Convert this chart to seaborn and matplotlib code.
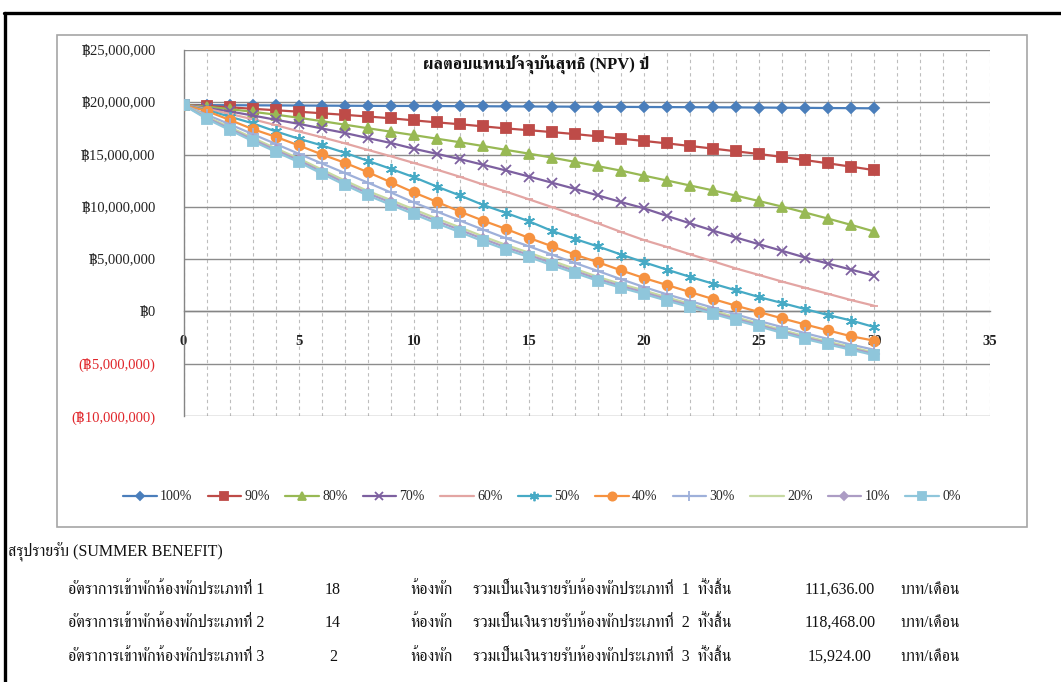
import numpy as np
import pandas as pd
import matplotlib
matplotlib.use("Agg")
import matplotlib.pyplot as plt
import seaborn as sns
from matplotlib import font_manager
from matplotlib.lines import Line2D
from matplotlib.patches import Rectangle
from matplotlib.ticker import FixedLocator, MultipleLocator, FuncFormatter

# ---------------------------------------------------------------- data
years = list(range(31))

occupancy_labels = ["100%", "90%", "80%", "70%", "60%", "50%",
                    "40%", "30%", "20%", "10%", "0%"]

# NPV by year (million baht)
npv_100 = [19.74, 19.73, 19.72, 19.71, 19.70, 19.69, 19.68, 19.67, 19.66, 19.65,
           19.65, 19.64, 19.63, 19.62, 19.61, 19.60, 19.59, 19.58, 19.57, 19.56,
           19.55, 19.54, 19.53, 19.52, 19.51, 19.50, 19.48, 19.47, 19.45, 19.44, 19.42]
npv_90 = [19.74, 19.65, 19.52, 19.38, 19.24, 19.10, 18.95, 18.80, 18.64, 18.47,
          18.27, 18.08, 17.90, 17.70, 17.50, 17.33, 17.15, 16.96, 16.74, 16.52,
          16.30, 16.07, 15.82, 15.57, 15.31, 15.05, 14.77, 14.47, 14.16, 13.84, 13.51]
npv_80 = [19.74, 19.58, 19.35, 19.09, 18.82, 18.52, 18.20, 17.86, 17.52, 17.19,
          16.86, 16.52, 16.18, 15.82, 15.45, 15.09, 14.71, 14.30, 13.89, 13.46,
          12.98, 12.52, 12.04, 11.57, 11.07, 10.55, 10.02, 9.45, 8.87, 8.27, 7.64]
npv_70 = [19.74, 19.45, 19.13, 18.74, 18.33, 17.94, 17.50, 17.07, 16.58, 16.11,
          15.56, 15.07, 14.57, 14.03, 13.48, 12.90, 12.31, 11.72, 11.09, 10.46,
          9.86, 9.13, 8.42, 7.72, 7.06, 6.42, 5.79, 5.15, 4.57, 3.99, 3.42]
npv_60 = [19.74, 19.38, 18.90, 18.38, 17.82, 17.22, 16.66, 16.08, 15.45, 14.84,
          14.20, 13.56, 12.88, 12.14, 11.46, 10.72, 9.98, 9.20, 8.42, 7.60,
          6.82, 6.16, 5.46, 4.79, 4.10, 3.48, 2.85, 2.26, 1.68, 1.08, 0.54]
npv_50 = [19.74, 19.27, 18.63, 17.99, 17.22, 16.52, 15.88, 15.18, 14.40, 13.64,
          12.84, 11.94, 11.09, 10.19, 9.42, 8.62, 7.70, 6.93, 6.21, 5.44,
          4.70, 3.99, 3.30, 2.65, 2.01, 1.37, 0.80, 0.22, -0.35, -0.87, -1.50]
npv_40 = [19.74, 19.17, 18.32, 17.44, 16.70, 15.88, 15.02, 14.22, 13.32, 12.36,
          11.38, 10.48, 9.55, 8.69, 7.89, 7.03, 6.23, 5.43, 4.70, 3.93,
          3.19, 2.52, 1.85, 1.18, 0.54, -0.06, -0.67, -1.25, -1.82, -2.38, -2.80]
npv_30 = [19.74, 18.82, 17.90, 16.96, 16.02, 15.08, 14.16, 13.24, 12.32, 11.38,
          10.42, 9.55, 8.69, 7.83, 7.00, 6.23, 5.43, 4.63, 3.86, 3.08,
          2.33, 1.63, 0.99, 0.35, -0.29, -0.92, -1.50, -2.08, -2.64, -3.18, -3.67]
npv_20 = [19.74, 18.64, 17.62, 16.60, 15.60, 14.63, 13.57, 12.52, 11.52, 10.65,
          9.76, 8.88, 8.04, 7.18, 6.36, 5.62, 4.84, 4.07, 3.30, 2.62,
          2.00, 1.34, 0.72, 0.06, -0.57, -1.17, -1.79, -2.37, -2.90, -3.42, -3.94]
npv_10 = [19.74, 18.52, 17.48, 16.44, 15.43, 14.45, 13.37, 12.30, 11.30, 10.42,
          9.52, 8.64, 7.80, 6.94, 6.13, 5.40, 4.62, 3.86, 3.10, 2.43,
          1.82, 1.17, 0.56, -0.10, -0.72, -1.31, -1.93, -2.52, -3.04, -3.55, -4.07]
npv_0 = [19.74, 18.42, 17.35, 16.29, 15.27, 14.28, 13.18, 12.10, 11.09, 10.20,
         9.30, 8.42, 7.58, 6.72, 5.92, 5.20, 4.42, 3.67, 2.92, 2.26,
         1.66, 1.02, 0.42, -0.24, -0.85, -1.44, -2.06, -2.64, -3.16, -3.67, -4.19]

npv_series = [npv_100, npv_90, npv_80, npv_70, npv_60, npv_50,
              npv_40, npv_30, npv_20, npv_10, npv_0]

y_ticks_baht = [-10_000_000, -5_000_000, 0, 5_000_000, 10_000_000,
                15_000_000, 20_000_000, 25_000_000]
x_ticks = [0, 5, 10, 15, 20, 25, 30, 35]

chart_title = "ผลตอบแทนปัจจุบันสุทธิ (NPV) ปี"

summary_heading = "สรุปรายรับ (SUMMER BENEFIT)"
room_types = [1, 2, 3]
rooms_occupied = [18, 14, 2]
monthly_income = [111636.00, 118468.00, 15924.00]

# ---------------------------------------------------------------- styles
series_colors = ["#4A7EBB", "#BE4B48", "#98B954", "#7D60A0", "#E3A5A3", "#46AAC5",
                 "#F69240", "#9EB0DA", "#C6D9A1", "#AC9CC4", "#8FC6DB"]
series_markers = ["D", "s", "^", "x", "_", (6, 2, 0), "o", "+", "_", "D", "s"]
marker_sizes = [5, 7, 7, 7, 6, 8, 7, 8, 6, 5, 7]

sns.set_theme(style="white")


def family_with(char, prefer=()):
    """Return an installed font family that has a glyph for ``char``."""
    try:
        from fontTools.ttLib import TTFont
    except Exception:
        return None
    hits = []
    for entry in font_manager.fontManager.ttflist:
        try:
            tt = TTFont(entry.fname, fontNumber=0, lazy=True)
            cmap = tt.getBestCmap() or {}
        except Exception:
            continue
        if ord(char) in cmap and entry.name not in hits:
            hits.append(entry.name)
    for p in prefer:
        for h in hits:
            if p.lower() in h.lower():
                return h
    return hits[0] if hits else None


thai_family = family_with("ผ", prefer=("Serif", "Thai"))
serif_stack = ["Liberation Serif"]
if thai_family:
    serif_stack.append(thai_family)
serif_stack += ["DejaVu Serif", "DejaVu Sans"]

plt.rcParams["font.family"] = serif_stack
plt.rcParams["axes.unicode_minus"] = False

W, H = 1061, 682


def fx(px):
    return px / W


def fy(py):
    return 1 - py / H


fig = plt.figure(figsize=(W / 100, H / 100), dpi=100, facecolor="white")

# page frame and chart box
fig.add_artist(Line2D([fx(4), fx(1061)], [fy(13), fy(13)], color="black", lw=2.4))
fig.add_artist(Line2D([fx(5), fx(5)], [fy(13), fy(682)], color="black", lw=2.4))
fig.add_artist(Rectangle((fx(57), fy(527)), fx(1027) - fx(57), fy(35) - fy(527),
                         fill=False, edgecolor="#A6A6A6", lw=1.2))

ax = fig.add_axes([fx(183.5), fy(416), (989.5 - 183.5) / W, (416 - 50) / H])
ax.set_facecolor("white")

records = []
for label, values in zip(occupancy_labels, npv_series):
    for yr, v in zip(years, values):
        records.append({"year": yr, "npv": v * 1_000_000, "occupancy": label})
df = pd.DataFrame(records)

handles = []
for label, color, marker, ms in zip(occupancy_labels, series_colors,
                                    series_markers, marker_sizes):
    sub = df[df["occupancy"] == label]
    sns.lineplot(data=sub, x="year", y="npv", ax=ax, color=color, lw=1.6,
                 marker=marker, markersize=ms, markeredgecolor=color,
                 markerfacecolor=color, markeredgewidth=1.3,
                 errorbar=None, legend=False, zorder=3)
    handles.append(Line2D([], [], color=color, lw=1.6, marker=marker,
                          markersize=ms, markeredgecolor=color,
                          markerfacecolor=color, markeredgewidth=1.3))

ax.set_xlim(0, 35)
ax.set_ylim(-10_000_000, 25_000_000)
ax.set_xlabel("")
ax.set_ylabel("")

# axes lines through the origin
for side in ("top", "right"):
    ax.spines[side].set_visible(False)
ax.spines["bottom"].set_position(("data", 0))
ax.spines["left"].set_position(("data", 0))
for side in ("bottom", "left"):
    ax.spines[side].set_color("#858585")
    ax.spines[side].set_linewidth(1.0)

ax.xaxis.set_major_locator(FixedLocator(x_ticks))
ax.xaxis.set_minor_locator(MultipleLocator(1))
ax.yaxis.set_major_locator(FixedLocator(y_ticks_baht))


def baht(v, _pos=None):
    if v < 0:
        return f"(฿{-v:,.0f})"
    return f"฿{v:,.0f}"


ax.yaxis.set_major_formatter(FuncFormatter(baht))

ax.tick_params(axis="x", which="major", direction="inout", length=8, width=1,
               color="#858585", pad=13, labelsize=10.5, labelcolor="#222222")
ax.tick_params(axis="x", which="minor", direction="inout", length=5, width=0.8,
               color="#858585")
ax.tick_params(axis="y", which="major", direction="out", length=5, width=1,
               color="#858585", pad=15, labelsize=10.5, labelcolor="#222222")
for lbl in ax.get_xticklabels():
    lbl.set_fontweight("bold")
for tick_val, lbl in zip(y_ticks_baht, ax.get_yticklabels()):
    lbl.set_color("#E0262B" if tick_val < 0 else "#222222")

ax.grid(False)
ax.yaxis.grid(True, which="major", color="#8C8C8C", lw=1.0, ls="-", zorder=0)
ax.xaxis.grid(True, which="both", color="#BDBDBD", lw=0.8, ls=(0, (3, 3)), zorder=0)
ax.set_axisbelow(True)

ax.text(0.437, 0.962, chart_title, transform=ax.transAxes, ha="center", va="center",
        fontsize=12, fontweight="bold", color="#111111")

fig.legend(handles, occupancy_labels, loc="center", bbox_to_anchor=(fx(542), fy(497)),
           ncol=11, frameon=False, fontsize=10, handlelength=2.4, handletextpad=0.25,
           columnspacing=1.1, numpoints=1, markerscale=0.85)

# revenue summary below the chart
txt = dict(fontsize=11.5, color="#111111", va="center")
fig.text(fx(8), fy(552), summary_heading, **txt)
row_y = [590, 623, 657]
for n, rooms, income, py in zip(room_types, rooms_occupied, monthly_income, row_y):
    fig.text(fx(68), fy(py), f"อัตราการเข้าพักห้องพักประเภทที่ {n}", **txt)
    fig.text(fx(333), fy(py), f"{rooms}", ha="center", **txt)
    fig.text(fx(410), fy(py), "ห้องพัก", **txt)
    fig.text(fx(473), fy(py), f"รวมเป็นเงินรายรับห้องพักประเภทที่  {n}  ทั้งสิ้น", **txt)
    fig.text(fx(840), fy(py), f"{income:,.2f}", ha="center", **txt)
    fig.text(fx(900), fy(py), "บาท/เดือน", **txt)

fig.savefig("out.png", dpi=100, facecolor="white")
